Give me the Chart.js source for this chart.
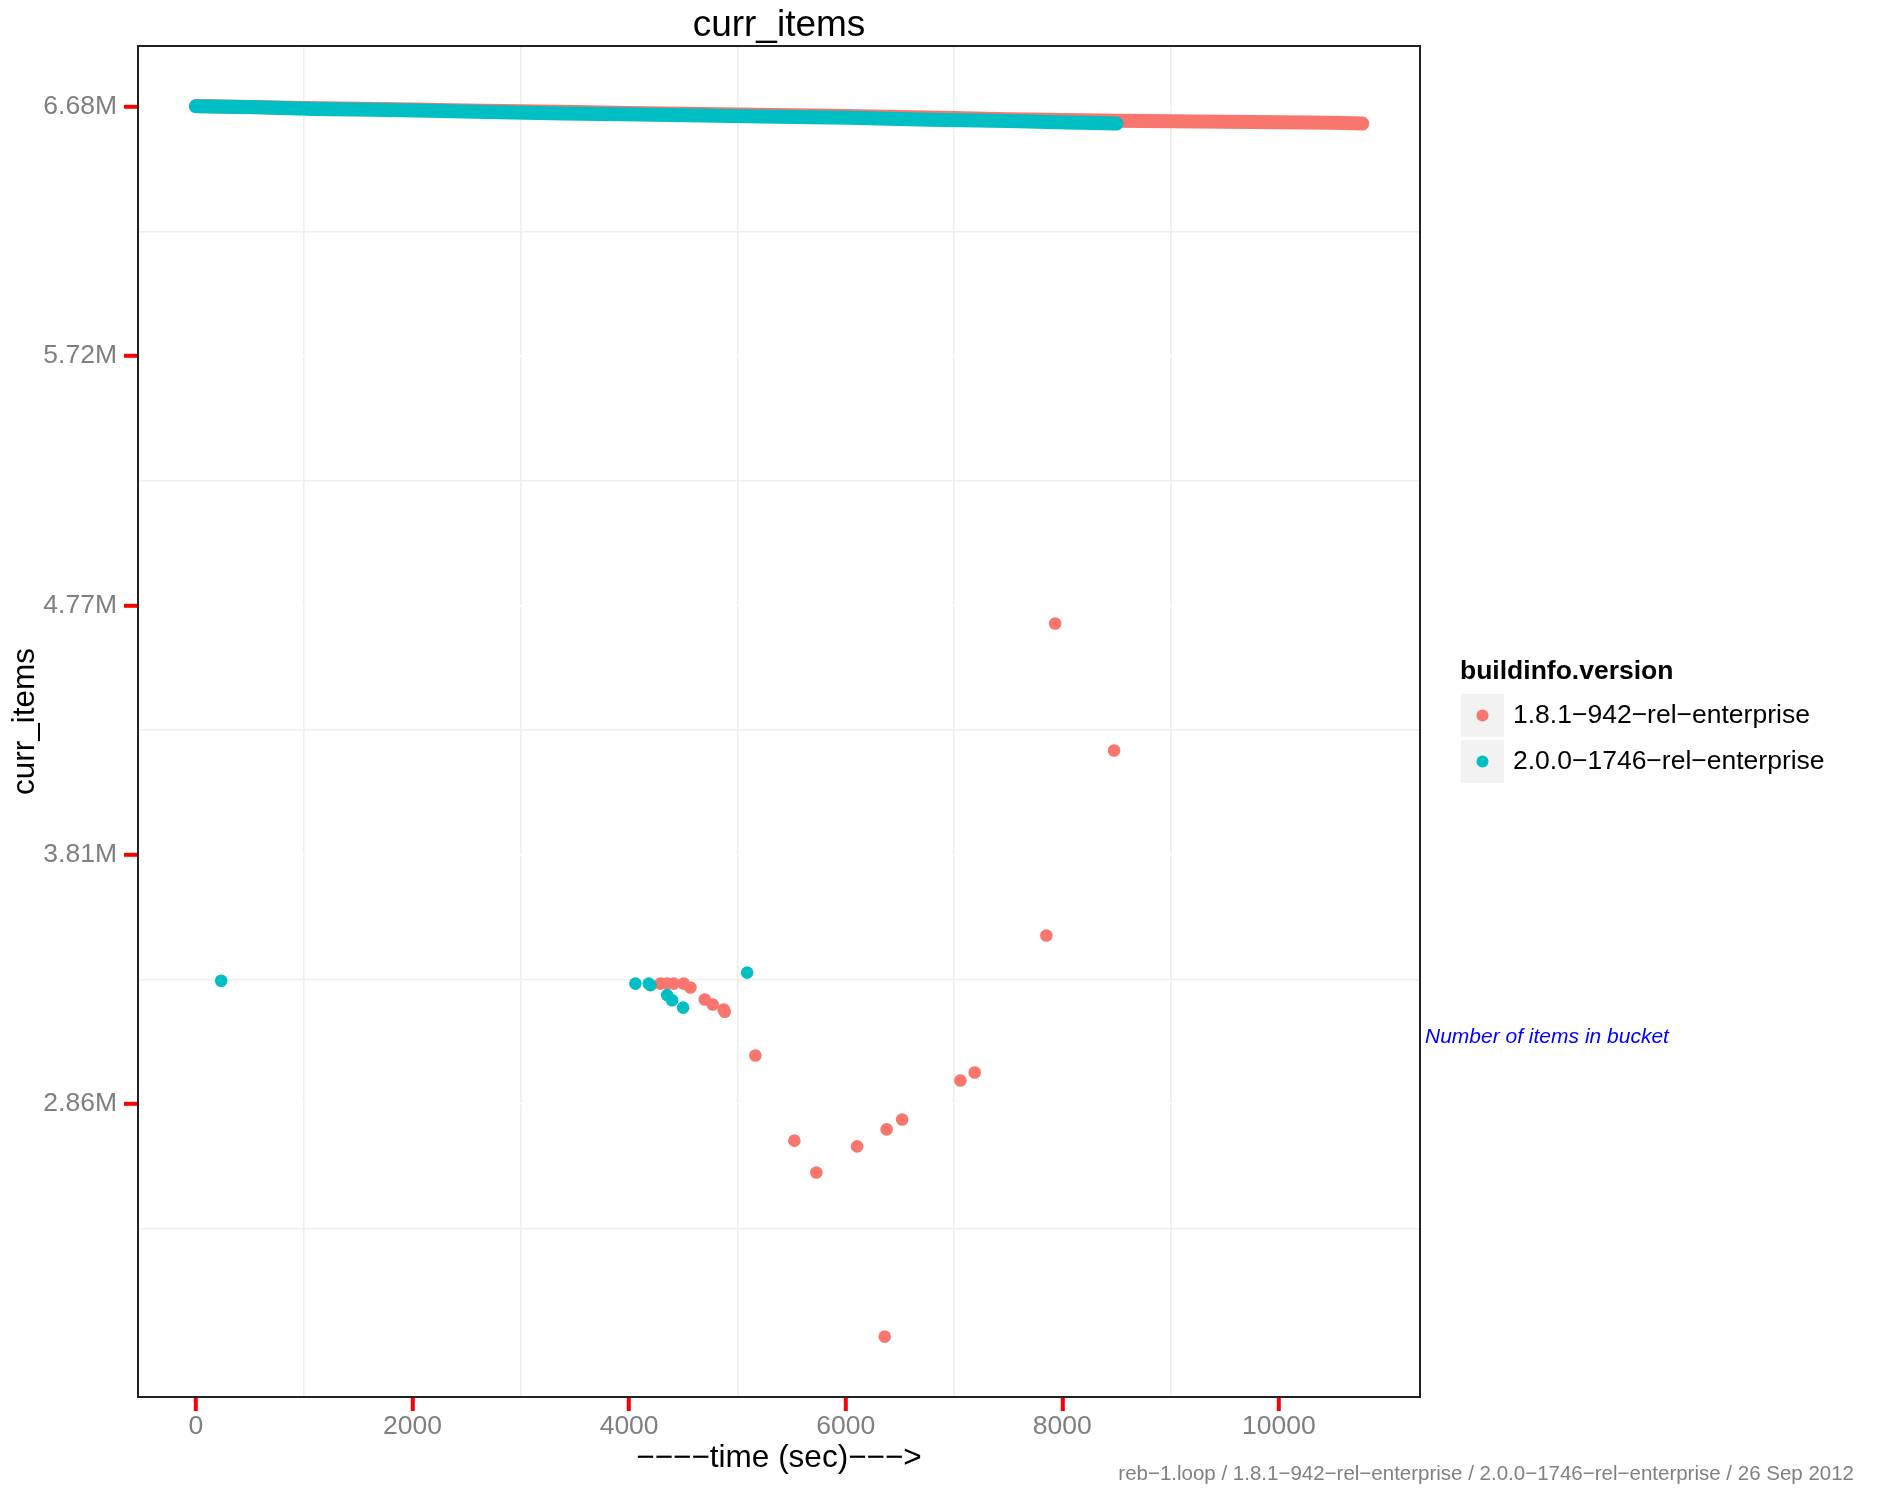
<!DOCTYPE html>
<html>
<head>
<meta charset="utf-8">
<title>curr_items</title>
<script src="https://cdn.jsdelivr.net/npm/chart.js@4.4.1/dist/chart.umd.min.js"></script>
<style>
  html, body { margin: 0; padding: 0; background: #fff; }
  canvas { display: block; }
</style>
</head>
<body>
<canvas id="chart" width="1891" height="1488"></canvas>
<script>
const red = '#F8766D'
const teal = '#00BFC4'
const font_family = '"Liberation Sans", Arial, Helvetica, sans-serif'

const chart_title = 'curr_items'
const x_title = '−−−−time (sec)−−−>'
const y_title = 'curr_items'
const legend_title = 'buildinfo.version'
const series_names = ['1.8.1−942−rel−enterprise', '2.0.0−1746−rel−enterprise']
const note_text = 'Number of items in bucket'
const caption_text = 'reb−1.loop / 1.8.1−942−rel−enterprise / 2.0.0−1746−rel−enterprise / 26 Sep 2012'

// axis ticks
const x_ticks = [0, 2000, 4000, 6000, 8000, 10000]
const x_minor = [1000, 3000, 5000, 7000, 9000]
const y_ticks = [2862000, 3816000, 4770000, 5724000, 6678000]
const y_tick_labels = ['2.86M', '3.81M', '4.77M', '5.72M', '6.68M']
const y_minor = [2385000, 3339000, 4293000, 5247000, 6201000]

// the dense run of samples at the top (read along the band)
const band_time_181 = [0, 500, 1000, 1500, 2000, 2500, 3000, 3500, 4000, 4500, 5000, 5500, 6000, 6500, 7000, 7500, 8000, 8500, 9000, 9500, 10000, 10500, 10770]
const band_items_181 = [6681000, 6678000, 6674000, 6671000, 6668000, 6664000, 6661000, 6658000, 6655000, 6652000, 6649000, 6646000, 6643000, 6639000, 6635000, 6631000, 6628000, 6625000, 6623000, 6621000, 6619000, 6617000, 6614000]
const band_time_200 = [0, 563, 1094, 1623, 2154, 2684, 3391, 4097, 4804, 5369, 6035, 6766, 7496, 8044, 8500]
const band_items_200 = [6680000, 6677000, 6670000, 6667000, 6663000, 6658000, 6653000, 6649000, 6644000, 6640000, 6636000, 6629000, 6624000, 6618000, 6614000]

// the scattered samples below
const dip_time_181 = [4289, 4351, 4412, 4504, 4566, 4698, 4772, 4873, 4883, 5166, 5526, 5729, 6105, 6360, 6378, 6521, 7059, 7191, 7853, 7934, 8478]
const dip_items_181 = [3323000, 3323000, 3323000, 3323000, 3308000, 3262000, 3243000, 3224000, 3215000, 3048000, 2722000, 2600000, 2700000, 1972000, 2765000, 2803000, 2952000, 2983000, 3507000, 4701000, 4215000]
const dip_time_200 = [233, 4058, 4181, 4197, 4351, 4397, 4499, 5090]
const dip_items_200 = [3334000, 3323000, 3323000, 3317000, 3279000, 3259000, 3231000, 3365000]

const to_points = (xs, ys) => xs.map((x, i) => ({ x: x, y: ys[i] }))

const dot_radius = 6.3

const datasets = [
    {
        label: series_names[1],
        data: to_points(band_time_200, band_items_200),
        showLine: true,
        borderColor: teal,
        borderWidth: 14,
        borderCapStyle: 'round',
        borderJoinStyle: 'round',
        pointRadius: 0,
        order: 0,
    },
    {
        label: series_names[1],
        data: to_points(dip_time_200, dip_items_200),
        backgroundColor: teal,
        borderWidth: 0,
        pointRadius: dot_radius,
        order: 0,
        in_legend: true,
    },
    {
        label: series_names[0],
        data: to_points(band_time_181, band_items_181),
        showLine: true,
        borderColor: red,
        borderWidth: 14,
        borderCapStyle: 'round',
        borderJoinStyle: 'round',
        pointRadius: 0,
        order: 1,
    },
    {
        label: series_names[0],
        data: to_points(dip_time_181, dip_items_181),
        backgroundColor: red,
        borderWidth: 0,
        pointRadius: dot_radius,
        order: 1,
        in_legend: true,
    },
]

const tick_font = { family: font_family, size: 26.5 }
const title_font = { family: font_family, size: 31.5 }

const is_major = (list, v) => list.some(t => Math.abs(t - v) < 1)

const decor = {
    id: 'decor',
    beforeDatasetsDraw(chart) {
        const { ctx, chartArea: a } = chart
        ctx.save()
        ctx.strokeStyle = '#222'
        ctx.lineWidth = 2
        ctx.strokeRect(a.left, a.top, a.right - a.left, a.bottom - a.top)
        ctx.restore()
    },
    afterDraw(chart) {
        const { ctx, chartArea: a } = chart
        ctx.save()

        // plot title
        ctx.fillStyle = '#000'
        ctx.font = `37px ${font_family}`
        ctx.textAlign = 'center'
        ctx.textBaseline = 'alphabetic'
        ctx.fillText(chart_title, (a.left + a.right) / 2, 36)

        // legend
        ctx.textAlign = 'left'
        ctx.font = `bold 26.5px ${font_family}`
        ctx.fillText(legend_title, 1460, 679)
        const entries = chart.data.datasets.filter(d => d.in_legend).slice().reverse()
        entries.forEach((d, i) => {
            const top = 694 + i * 46
            ctx.fillStyle = '#f2f2f2'
            ctx.fillRect(1461, top, 43, 43)
            ctx.fillStyle = d.backgroundColor
            ctx.beginPath()
            ctx.arc(1482.5, top + 21.5, 6, 0, Math.PI * 2)
            ctx.fill()
            ctx.fillStyle = '#000'
            ctx.font = `26.5px ${font_family}`
            ctx.textBaseline = 'middle'
            ctx.fillText(d.label, 1513, top + 22)
        })

        // side note
        ctx.fillStyle = '#0000ff'
        ctx.font = `italic 21px ${font_family}`
        ctx.textBaseline = 'middle'
        ctx.fillText(note_text, a.right + 5, 1037)

        // caption
        ctx.fillStyle = '#808080'
        ctx.font = `20.5px ${font_family}`
        ctx.textAlign = 'right'
        ctx.textBaseline = 'alphabetic'
        ctx.fillText(caption_text, 1854, 1480)

        ctx.restore()
    }
}

const chart = new Chart(document.getElementById('chart'), {
    type: 'scatter',
    data: { datasets: datasets },
    options: {
        responsive: false,
        animation: false,
        events: [],
        layout: { padding: { top: 46, right: 471, bottom: 0, left: 0 } },
        plugins: {
            legend: { display: false },
            tooltip: { enabled: false },
        },
        scales: {
            x: {
                type: 'linear',
                min: -535,
                max: 11303,
                afterBuildTicks: s => { s.ticks = x_ticks.concat(x_minor).sort((a, b) => a - b).map(v => ({ value: v })) },
                afterFit: s => { s.height = 91 },
                border: { display: false },
                grid: {
                    color: c => is_major(x_ticks, c.tick.value) ? '#ffffff' : '#eeeeee',
                    lineWidth: 1.6,
                    tickColor: c => is_major(x_ticks, c.tick.value) ? '#ff0000' : 'rgba(0,0,0,0)',
                    tickWidth: 4,
                    tickLength: 14,
                },
                ticks: {
                    autoSkip: false,
                    maxRotation: 0,
                    padding: 0,
                    color: '#7f7f7f',
                    font: tick_font,
                    callback: v => is_major(x_ticks, v) ? String(v) : '',
                },
                title: {
                    display: true,
                    text: x_title,
                    color: '#000',
                    font: title_font,
                    padding: { top: 0, bottom: 11 },
                },
            },
            y: {
                type: 'linear',
                min: 1741000,
                max: 6911000,
                afterBuildTicks: s => { s.ticks = y_ticks.concat(y_minor).sort((a, b) => a - b).map(v => ({ value: v })) },
                afterFit: s => { s.width = 138 },
                border: { display: false },
                grid: {
                    color: c => is_major(y_ticks, c.tick.value) ? '#ffffff' : '#eeeeee',
                    lineWidth: 1.6,
                    tickColor: c => is_major(y_ticks, c.tick.value) ? '#ff0000' : 'rgba(0,0,0,0)',
                    tickWidth: 4,
                    tickLength: 14,
                },
                ticks: {
                    autoSkip: false,
                    padding: 7,
                    color: '#7f7f7f',
                    font: tick_font,
                    callback: v => {
                        const i = y_ticks.findIndex(t => Math.abs(t - v) < 1)
                        return i >= 0 ? y_tick_labels[i] : ''
                    },
                },
                title: {
                    display: true,
                    text: y_title,
                    color: '#000',
                    font: title_font,
                    padding: { top: 6, bottom: 0 },
                },
            },
        },
    },
    plugins: [decor],
})
</script>
</body>
</html>
